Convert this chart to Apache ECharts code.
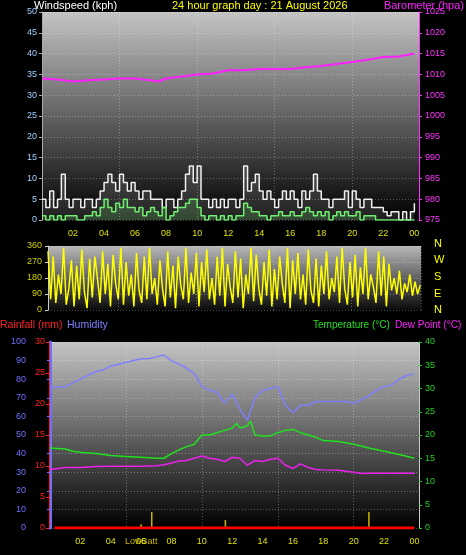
<!DOCTYPE html>
<html><head><meta charset="utf-8">
<script src="https://cdn.jsdelivr.net/npm/echarts@6/dist/echarts.min.js"></script>
<style>html,body{margin:0;background:#000}#c{width:466px;height:555px}</style></head>
<body><div id="c"></div>
<script>
// ---- data ----
const gust = [5,3,7,3, 5,11,5,3, 5,5,3,5, 5,3,5,7, 9,11,9,7, 11,9,7,9, 7,5,7,7, 5,5,5,3, 5,5,3,5, 7,11,13,9, 13,5,5,3, 5,3,5,3, 5,5,3,5, 13,7,9,11, 7,5,7,5, 3,5,7,5, 7,5,3,7, 5,7,11,7, 5,5,3,5, 5,5,7,3, 7,5,3,5, 5,3,3,3, 2,1,2,2, 0,2,0,2, 4];
const avgWind = [1,0,1,0, 1,0,1,1, 1,0,0,1, 1,2,1,3, 5,3,2,4, 3,5,3,3, 2,3,1,2, 3,2,1,3, 0,1,2,3, 3,4,5,5, 3,1,0,1, 1,0,1,0, 1,0,1,1, 4,3,2,2, 1,1,0,1, 1,2,1,1, 2,1,1,2, 3,2,1,2, 1,2,0,1, 2,1,2,1, 1,2,0,1, 1,1,0,0, 0,0,0,0, 0,0,0,0, 0];
const baroHours = [0,1,2,3,4,5,6,7,7.5,8,9,10,11,12,13,14,15,16,17,18,19,20,21,22,23,24];
const baro = [1009,1008.8,1008.3,1008.6,1008.8,1009,1009,1008.6,1008.3,1009,1009.5,1010,1010.2,1011,1011,1011.3,1011.3,1011.3,1011.7,1012,1012.5,1013,1013.5,1014.2,1014.3,1015];
const windDir = [330,60,300,40,200,90,350,30,120,280,20,250,60,340,100,10,290,70,300,180,40,330,90,260,20,310,150,60,350,30,270,80,200,20,320,110,40,300,60,350,90,180,30,280,120,20,330,70,250,10,300,140,60,350,40,210,90,320,20,270,100,340,60,180,30,300,80,350,20,260,130,40,330,70,290,10,200,90,350,50,310,120,30,270,80,340,20,230,60,300,150,40,350,10,280,90,320,60,200,30,340,110,40,290,20,250,90,330,60,180,100,300,40,350,120,30,270,70,310,20,240,90,350,60,200,130,40,330,80,300,20,260,110,180,90,220,60,150,100,200,80,160,90,140];
const humidity = [75,76,76,78,80,82,84,85,87,88,89,90,91,91,92,93,90,88,86,83,76,74,73,67,72,64,58,70,74,75,76,66,62,66,66,68,68,68,68,68,67,69,71,74,76,77,80,82,83];
const tempHours = [0,1,1.5,2,3,4,5,6,7,7.5,8,8.5,9,9.5,10,10.5,11,11.5,12,12.3,12.5,13,13.2,13.5,14,14.5,15,15.5,16,16.5,17,17.5,18,19,20,21,22,23,24];
const temperature = [17.2,17,16.5,16.3,16,15.6,15.4,15.2,15,15,16,16.8,17.5,18,20,20,20.5,21,21.5,22.5,21.5,22,23,20,19.8,19.8,20.5,21,21.2,20.5,20,19.5,18.8,18.6,18,17.2,16.5,15.8,15];
const dewHours = [0,1,2,3,4,5,6,7,7.5,8,8.5,9,9.5,10,10.5,11,11.5,12,12.5,13,13.5,14,14.5,15,15.5,16,16.5,17,17.5,18,19,20,20.5,21,22,23,24];
const dewPoint = [12.6,13,13,13.2,13.3,13.3,13.3,13.4,13.6,14,14.4,14.5,15,15.5,15,14.8,14.3,15.2,15,13.5,14.5,14.3,14.8,15,13.5,12.8,13.8,13,12.6,12.5,12.4,12,11.7,11.8,11.8,11.8,11.8];
const rainfall = [0,0];
const eventHours = [6.0,6.7,11.55,21.0];
const eventHeights = [2,8.6,4.3,8.6];
const hourTicks = [2,4,6,8,10,12,14,16,18,20,22,24];

// ---- build ----
const q = (arr, step) => arr.map((v,i)=>[i*step, v]);
const zip = (xs, ys) => xs.map((x,i)=>[x, ys[i]]);
const grad = (a,b)=>({type:'linear',x:0,y:0,x2:0,y2:1,colorStops:[{offset:0,color:a},{offset:1,color:b}]});
const fmtH = v => String(Math.round(v)%24).padStart(2,'0');
const split = {show:true,lineStyle:{color:'rgba(255,255,255,0.3)',type:[1,2]}};
const F = 'Liberation Sans, Arial, sans-serif';
const xAx = (gi, min, max, pos, showLab) => ({type:'value', gridIndex:gi, min, max, position:pos||'bottom',
  axisLine:{show:false}, axisTick:{show:false},
  axisLabel:{show:showLab!==false, customValues:hourTicks, formatter:fmtH, color:'#e0e000', fontSize:9, fontFamily:F, margin:9},
  splitLine:split});
const yAx = (gi,o) => Object.assign({type:'value', gridIndex:gi, axisTick:{show:true,length:3,inside:false},
  splitLine:{show:false}}, o);
const lab = (c,m)=>({color:c,fontSize:9,fontFamily:F,margin:m});

const option = {
  backgroundColor:'#000', animation:false,
  grid:[
    {left:42,right:47,top:12,height:208,show:true,backgroundColor:grad('#c4c4c4','#000'),borderWidth:0},
    {left:48,right:45,top:246,height:64,show:true,backgroundColor:grad('#b8b8b8','#0a0a0a'),borderWidth:0},
    {left:50,right:47,top:342,height:186,show:true,backgroundColor:grad('#c4c4c4','#000'),borderWidth:0}
  ],
  xAxis:[xAx(0,0,24.3), xAx(1,0.45,24.5,'top',false), xAx(2,0,24.3)],
  yAxis:[
    yAx(0,{min:0,max:50,interval:5,position:'left',axisLine:{show:true,lineStyle:{color:'#aaa'}},axisLabel:lab('#9fd0ff',5),splitLine:split}),
    yAx(0,{min:975,max:1025,interval:5,position:'right',axisLine:{show:true,lineStyle:{color:'#ff33ff'}},axisLabel:Object.assign(lab('#ff33ff',6),{formatter:v=>String(v)})}),
    yAx(1,{min:0,max:360,interval:90,position:'left',axisLine:{show:true,lineStyle:{color:'#ccc'}},axisLabel:lab('#d0d000',6),splitLine:split}),
    yAx(2,{min:0,max:100,interval:10,position:'left',offset:20,axisLine:{show:true,lineStyle:{color:'#7070ff',width:3}},axisLabel:lab('#7070ff',4),splitLine:split}),
    yAx(2,{min:0,max:30,interval:5,position:'left',offset:1,axisLine:{show:true,lineStyle:{color:'#ff2020',width:1}},axisLabel:lab('#ff2020',4)}),
    yAx(2,{min:0,max:40,interval:5,position:'right',axisLine:{show:true,lineStyle:{color:'#ccc'}},axisTick:{show:true,length:3,lineStyle:{color:'#20d020'}},axisLabel:lab('#20d020',6)})
  ],
  series:[
    {type:'line',xAxisIndex:0,yAxisIndex:0,data:q(gust,0.25),step:'end',symbol:'none',lineStyle:{color:'#f0f0f0',width:1.5},areaStyle:{color:'rgba(255,255,255,0.18)'}},
    {type:'line',xAxisIndex:0,yAxisIndex:0,data:q(avgWind,0.25),step:'end',symbol:'none',lineStyle:{color:'#70f070',width:1.5},areaStyle:{color:'rgba(140,255,140,0.25)'}},
    {type:'line',xAxisIndex:0,yAxisIndex:1,data:zip(baroHours,baro),symbol:'none',lineStyle:{color:'#ff20ff',width:2}},
    {type:'line',xAxisIndex:1,yAxisIndex:2,data:windDir.map((v,i)=>[0.45+i*24/(windDir.length-1),v]),symbol:'none',lineStyle:{color:'#ffff00',width:1.5}},
    {type:'line',xAxisIndex:2,yAxisIndex:3,data:q(humidity,0.5),symbol:'none',lineStyle:{color:'#8080ff',width:1.5}},
    {type:'line',xAxisIndex:2,yAxisIndex:5,data:zip(tempHours,temperature),symbol:'none',lineStyle:{color:'#20e020',width:1.5}},
    {type:'line',xAxisIndex:2,yAxisIndex:5,data:zip(dewHours,dewPoint),symbol:'none',lineStyle:{color:'#ee20ee',width:1.5}},
    {type:'line',xAxisIndex:2,yAxisIndex:4,data:[[0.3,rainfall[0]],[24,rainfall[1]]],symbol:'none',lineStyle:{color:'#ff0000',width:3},z:5},
    {type:'bar',xAxisIndex:2,yAxisIndex:3,data:zip(eventHours,eventHeights),barWidth:1.5,itemStyle:{color:'#c8b400'}}
  ],
  graphic:[
    {type:'text',left:34,top:0,style:{text:'Windspeed (kph)',fill:'#fff',font:'11px '+F}},
    {type:'text',left:172,top:0,style:{text:'24 hour graph day : 21 August 2026',fill:'#ffff00',font:'11px '+F}},
    {type:'text',right:2,top:0,style:{text:'Barometer (hpa)',fill:'#ff20ff',font:'11px '+F}},
    {type:'text',left:434,top:238,style:{text:'N',fill:'#ffff00',font:'11px '+F}},
    {type:'text',left:434,top:254,style:{text:'W',fill:'#ffff00',font:'11px '+F}},
    {type:'text',left:434,top:271,style:{text:'S',fill:'#ffff00',font:'11px '+F}},
    {type:'text',left:434,top:288,style:{text:'E',fill:'#ffff00',font:'11px '+F}},
    {type:'text',left:434,top:304,style:{text:'N',fill:'#ffff00',font:'11px '+F}},
    {type:'text',left:0,top:320,style:{text:'Rainfall (mm)',fill:'#ff2020',font:'10.5px '+F}},
    {type:'text',left:67,top:320,style:{text:'Humidity',fill:'#8080ff',font:'10.5px '+F}},
    {type:'text',left:313,top:320,style:{text:'Temperature (°C)',fill:'#20e020',font:'10px '+F}},
    {type:'text',left:395,top:320,style:{text:'Dew Point (°C)',fill:'#ff20ff',font:'10px '+F}},
    {type:'text',left:125,top:537,style:{text:'LowBatt',fill:'#c8b400',font:'9px '+F}}
  ]
};
echarts.init(document.getElementById('c')).setOption(option);
</script></body></html>
